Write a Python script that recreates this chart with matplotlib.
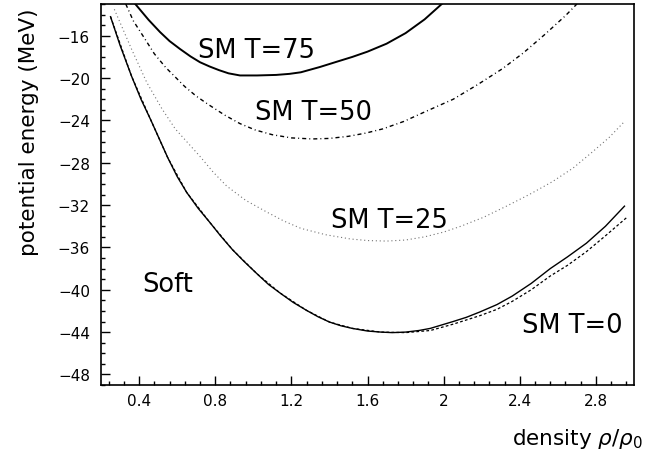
import matplotlib
matplotlib.use('Agg')
import matplotlib.pyplot as plt
from matplotlib.ticker import MultipleLocator, FuncFormatter

# density rho/rho0 and potential energy (MeV)
x_t0 = [0.25, 0.30, 0.36, 0.41, 0.46, 0.55, 0.60, 0.65, 0.71, 0.77, 0.83, 0.89, 0.95,
        1.02, 1.08, 1.14, 1.21, 1.28, 1.34, 1.40, 1.46, 1.52, 1.60, 1.67, 1.73, 1.80,
        1.87, 1.93, 2.05, 2.12, 2.19, 2.28, 2.36, 2.46, 2.56, 2.65, 2.75, 2.85, 2.95]
y_t0 = [-14.2, -16.9, -19.8, -22.0, -23.9, -27.5, -29.3, -30.8, -32.3, -33.6, -34.95, -36.2, -37.3,
        -38.5, -39.5, -40.3, -41.2, -41.95, -42.55, -43.05, -43.4, -43.65, -43.9, -44.0, -44.05, -44.0,
        -43.85, -43.65, -43.0, -42.6, -42.1, -41.4, -40.6, -39.4, -38.0, -36.9, -35.6, -34.0, -32.1]

# second T=0 curve (dashed), splits off the solid one above ~1.8
x_t0b = [0.25, 0.36, 0.46, 0.55, 0.65, 0.77, 0.89, 1.02, 1.14, 1.28, 1.40,
         1.52, 1.67, 1.80, 1.93, 2.05, 2.19, 2.28, 2.36, 2.46, 2.56, 2.65, 2.75, 2.85, 2.96]
y_t0b = [-14.2, -19.8, -23.9, -27.5, -30.8, -33.6, -36.2, -38.5, -40.3, -41.95, -43.05,
         -43.65, -44.0, -44.05, -43.85, -43.25, -42.45, -41.85, -41.1, -40.0, -38.7, -37.7, -36.4, -34.9, -33.2]

x_t25 = [0.27, 0.36, 0.44, 0.52, 0.59, 0.66, 0.72, 0.79, 0.86, 0.96, 1.07, 1.16, 1.25,
         1.38, 1.51, 1.60, 1.70, 1.80, 1.90, 2.00, 2.09, 2.21, 2.33, 2.45, 2.57, 2.68, 2.78,
         2.87, 2.95]
y_t25 = [-13.5, -17.25, -20.4, -22.9, -24.8, -26.2, -27.4, -28.9, -30.2, -31.55, -32.65, -33.5, -34.2,
         -34.8, -35.2, -35.35, -35.4, -35.3, -35.0, -34.55, -34.0, -33.15, -32.1, -31.0, -29.8, -28.5, -27.0,
         -25.6, -24.1]

x_t50 = [0.33, 0.37, 0.42, 0.48, 0.54, 0.59, 0.64, 0.70, 0.76, 0.85, 0.93, 1.01, 1.10,
         1.20, 1.31, 1.40, 1.50, 1.59, 1.68, 1.79, 1.90, 2.05, 2.18, 2.31, 2.42, 2.53, 2.64, 2.70]
y_t50 = [-13.0, -14.6, -16.0, -17.7, -19.0, -19.9, -20.8, -21.7, -22.45, -23.5, -24.3, -24.9, -25.35,
         -25.65, -25.75, -25.7, -25.5, -25.2, -24.8, -24.1, -23.2, -22.0, -20.6, -19.1, -17.6, -15.9, -14.1, -13.0]

x_t75 = [0.38, 0.45, 0.51, 0.56, 0.615, 0.67, 0.72, 0.77, 0.82, 0.87, 0.93, 1.02, 1.12, 1.19,
         1.25, 1.30, 1.35, 1.43, 1.52, 1.60, 1.70, 1.80, 1.90, 1.99]
y_t75 = [-13.0, -14.5, -15.65, -16.5, -17.25, -17.95, -18.5, -18.9, -19.25, -19.55, -19.75, -19.75, -19.7, -19.6,
         -19.45, -19.2, -18.95, -18.5, -18.0, -17.5, -16.75, -15.75, -14.45, -13.0]

fig = plt.figure(figsize=(6.48, 4.52), dpi=100)
ax = fig.add_axes([0.1559, 0.1460, 0.8225, 0.8429])

ax.plot(x_t0, y_t0, color='black', lw=1.0)
ax.plot(x_t0b, y_t0b, color='black', lw=0.9, linestyle=(0, (2.2, 1.8)))
ax.plot(x_t25, y_t25, color='0.45', lw=0.8, linestyle=(0, (1, 2.5)))
ax.plot(x_t50, y_t50, color='black', lw=1.0, linestyle=(0, (2.9, 2.2, 0.7, 2.2)))
ax.plot(x_t75, y_t75, color='black', lw=1.4)

ax.set_xlim(0.2, 3.0)
ax.set_ylim(-49, -13)

ax.xaxis.set_major_locator(MultipleLocator(0.4))
ax.xaxis.set_minor_locator(MultipleLocator(0.08))
ax.yaxis.set_major_locator(MultipleLocator(4))
ax.yaxis.set_minor_locator(MultipleLocator(1))
ax.xaxis.set_major_formatter(FuncFormatter(lambda v, p: '%g' % round(v, 2)))
ax.yaxis.set_major_formatter(FuncFormatter(lambda v, p: ('%g' % v).replace('-', '\u2212')))

ax.tick_params(which='both', direction='in', top=False, right=False, width=1.0)
ax.tick_params(which='major', length=6.5, labelsize=11)
ax.tick_params(axis='y', which='major', pad=8)
ax.tick_params(axis='x', which='major', pad=6)
ax.tick_params(which='minor', length=3)
for s in ax.spines.values():
    s.set_linewidth(1.2)

ax.text(0.71, -18.0, 'SM T=75', fontsize=18.5, va='baseline')
ax.text(1.01, -23.87, 'SM T=50', fontsize=18.5, va='baseline')
ax.text(1.41, -34.07, 'SM T=25', fontsize=18.5, va='baseline')
ax.text(2.41, -44.0, 'SM T=0', fontsize=18.5, va='baseline')
ax.text(0.415, -40.1, 'Soft', fontsize=18.5, va='baseline')

fig.text(0.045, 0.708, 'potential energy (MeV)', rotation=90, ha='center', va='center',
         fontsize=15.5)
fig.text(0.992, 0.0155, r'density $\rho/\rho_0$', ha='right', va='baseline', fontsize=15.5)

fig.savefig('out.png', dpi=100)
